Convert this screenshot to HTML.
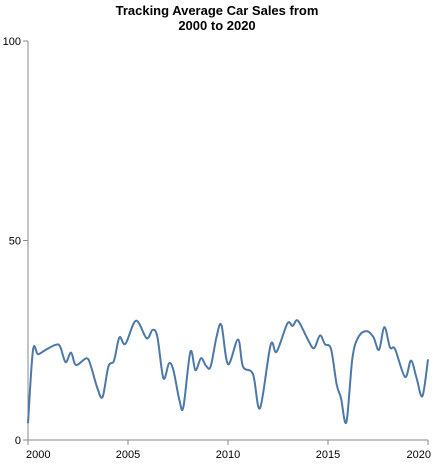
<!DOCTYPE html>
<html><head><meta charset="utf-8"><style>
body{margin:0;background:#fff;font-family:"Liberation Sans",sans-serif}
svg text{font-family:"Liberation Sans",sans-serif}
</style></head><body>
<svg id="c" width="435" height="462">
<text x="217" y="15" text-anchor="middle" font-size="13" font-weight="bold">Tracking Average Car Sales from</text>
<text x="217" y="30" text-anchor="middle" font-size="13" font-weight="bold">2000 to 2020</text>
<g id="axes"></g>
<path id="line" fill="none" stroke="#4c78a8" stroke-width="2"></path>
</svg>
<script>
const years=[0,0.25,0.5,0.85,1.35,1.6,1.88,2.15,2.4,2.93,3.15,3.47,3.73,4.02,4.3,4.57,4.87,5.4,5.93,6.23,6.47,6.77,7.05,7.27,7.57,7.77,8.12,8.37,8.65,8.9,9.13,9.43,9.67,10,10.5,10.75,11.25,11.6,12.13,12.43,12.97,13.23,13.5,14,14.3,14.6,14.85,15.15,15.43,15.65,15.92,16.22,16.52,16.93,17.27,17.55,17.82,18.1,18.35,18.85,19.15,19.43,19.72,20];
const sales=[4.2,22.5,21.5,22.5,23.8,23.5,19.5,21.9,18.8,20.5,18.4,13,10.8,18.4,19.9,25.7,24.1,29.9,25.5,27.6,25.8,15.5,19.2,17.5,10,8.3,22.1,17.5,20.5,18.6,18.4,25.9,28.8,19,25.2,18.4,16.5,8,23.8,22.1,29.2,28.6,29.9,25.1,23,26.2,24,22.8,14,10.5,4.5,20.5,25.8,27.3,25.8,22.6,28.3,23.2,22.8,15.8,19.9,15.5,11,20.2];
const xTicks=[2000,2005,2010,2015,2020];
const yTicks=[0,50,100];
const X0=28,X1=428,Y0=440,Y1=41;
const sx=v=>X0+(v-2000)/20*(X1-X0);
const sy=v=>Y0-v/100*(Y0-Y1);
const NS="http://www.w3.org/2000/svg";
const ax=document.getElementById('axes');
function mk(t,a){const e=document.createElementNS(NS,t);for(const k in a)e.setAttribute(k,a[k]);ax.appendChild(e);return e;}
let e=mk('line',{x1:X0,y1:Y1,x2:X0,y2:Y0,stroke:'#888'});


e=mk('line',{x1:X0,y1:Y0,x2:X1,y2:Y0,stroke:'#888'});


yTicks.forEach(v=>{
 mk('line',{x1:X0-5,x2:X0,y1:sy(v),y2:sy(v),stroke:'#888'});
 const t=mk('text',{x:X0-7,y:sy(v)+4,'text-anchor':'end','font-size':'11'});t.textContent=v;
 
 
});
xTicks.forEach(v=>{
 mk('line',{x1:sx(v),x2:sx(v),y1:Y0,y2:Y0+5,stroke:'#888'});
 const anchor=v===2000?'start':(v===2020?'end':'middle');
 const t=mk('text',{x:sx(v)+(v===2020?3:(v===2000?-2:0)),y:Y0+18,'text-anchor':anchor,'font-size':'11'});t.textContent=v;
 
 
});
const pts=years.map((y,i)=>[sx(2000+y),sy(sales[i])]);
let d='M'+pts[0][0]+','+pts[0][1];
for(let i=0;i<pts.length-1;i++){
 const p0=pts[Math.max(0,i-1)],p1=pts[i],p2=pts[i+1],p3=pts[Math.min(pts.length-1,i+2)];
 const c1=[p1[0]+(p2[0]-p0[0])/6,p1[1]+(p2[1]-p0[1])/6];
 const c2=[p2[0]-(p3[0]-p1[0])/6,p2[1]-(p3[1]-p1[1])/6];
 d+=`C${c1[0]},${c1[1]} ${c2[0]},${c2[1]} ${p2[0]},${p2[1]}`;
}
document.getElementById('line').setAttribute('d',d);
</script>
</body></html>
